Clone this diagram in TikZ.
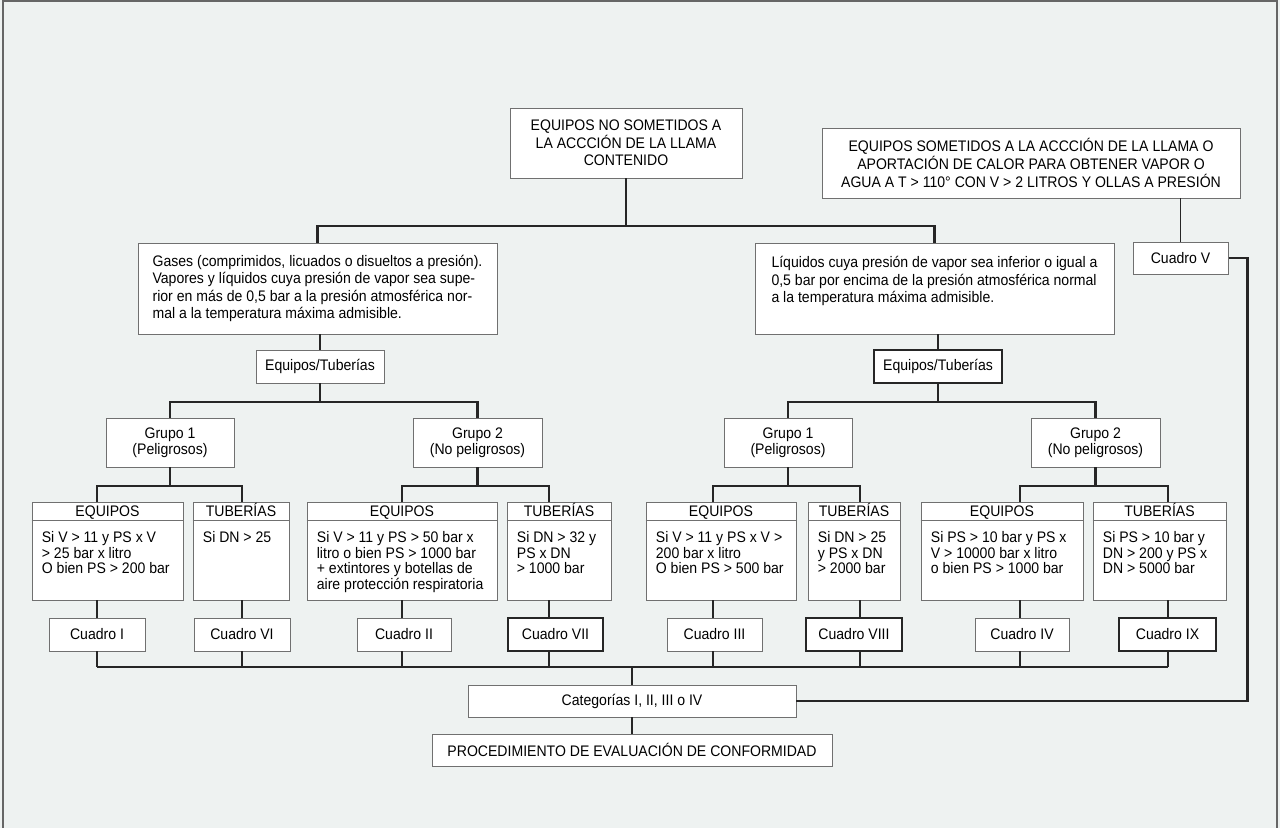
\documentclass[tikz,border=0pt]{standalone}
\usepackage{fontspec}
\setmainfont{Liberation Sans}[FakeStretch=0.92]
\newlength{\unidad}
\setlength{\unidad}{0.02cm}
\definecolor{fondo}{HTML}{EEF2F1}
\definecolor{borde}{HTML}{707070}
\definecolor{marco}{HTML}{666666}
\newcommand{\letra}{\fontsize{8.7}{10}\selectfont}
\newcommand{\letrac}{\fontsize{8.7}{8.85}\selectfont}
% tabla: nombre, centro x, ancho, titulo, texto
\newcommand{\tabla}[5]{%
	\node[caja, minimum width=#3\unidad, minimum height=98\unidad] (#1) at (#2,551) {};
	\draw[borde, line width=0.55pt] (#1.north west) ++(0,19) -- ++(#3,0);
	\node[font=\letra, inner sep=0pt, anchor=base] (#1-tit) at (#2,516) {#4};
	\node[font=\letrac, align=left, anchor=north west, inner sep=0pt, xshift=10\unidad, yshift=-29.5\unidad] (#1-txt) at (#1.north west) {#5};
}
\begin{document}
\begin{tikzpicture}[x=0.02cm, y=-0.02cm,
		caja/.style={draw=borde, fill=white, line width=0.55pt, inner sep=0pt, font=\letra, align=center},
		cajaosc/.style={caja, draw=black!85, line width=0.8pt},
		conn/.style={line width=1.6pt, black!85},
		medio/.style={line width=1.1pt, black!85},
		fino/.style={line width=0.85pt, black!85}]
	\useasboundingbox (0,0) rectangle (1280,828);
	\fill[fondo] (0,0) rectangle (1280,828);
	\draw[marco, line width=0.7pt] (3,828) -- (3,1) -- (1277,1) -- (1277,828);
	
	% cajas de arriba
	\node[caja, minimum width=232\unidad, minimum height=70\unidad] (noSom) at (626,143) {EQUIPOS NO SOMETIDOS A\\LA ACCCIÓN DE LA LLAMA\\CONTENIDO};
	\node[caja, minimum width=418\unidad, minimum height=70\unidad] (som) at (1031,163) {EQUIPOS SOMETIDOS A LA ACCCIÓN DE LA LLAMA O\\APORTACIÓN DE CALOR PARA OBTENER VAPOR O\\AGUA A T > 110° CON V > 2 LITROS Y OLLAS A PRESIÓN};
	\node[caja, minimum width=95\unidad, minimum height=32\unidad] (cuadroV) at (1180.5,258) {Cuadro V};
	
	\node[caja, align=left, minimum width=359\unidad, minimum height=91\unidad] (gases) at (317.5,288.5) {Gases (comprimidos, licuados o disueltos a presión).\\Vapores y líquidos cuya presión de vapor sea supe-\\rior en más de 0,5 bar a la presión atmosférica nor-\\mal a la temperatura máxima admisible.};
	\node[caja, align=left, minimum width=359\unidad, minimum height=91\unidad] (liq) at (934.5,288.5) {Líquidos cuya presión de vapor sea inferior o igual a\\0,5 bar por encima de la presión atmosférica normal\\a la temperatura máxima admisible.\\ ~};
	
	\node[caja, minimum width=128\unidad, minimum height=33\unidad] (eqtubL) at (320,366.5) {Equipos/Tuberías};
	\node[cajaosc, minimum width=128\unidad, minimum height=33\unidad] (eqtubR) at (938,366.5) {Equipos/Tuberías};
	
	% grupos
	\node[caja, font=\letrac, minimum width=128\unidad, minimum height=49\unidad] (g1L) at (170,442.5) {Grupo 1\\(Peligrosos)};
	\node[caja, font=\letrac, minimum width=129\unidad, minimum height=49\unidad] (g2L) at (477.5,442.5) {Grupo 2\\(No peligrosos)};
	\node[caja, font=\letrac, minimum width=128\unidad, minimum height=49\unidad] (g1R) at (788,442.5) {Grupo 1\\(Peligrosos)};
	\node[caja, font=\letrac, minimum width=129\unidad, minimum height=49\unidad] (g2R) at (1095.5,442.5) {Grupo 2\\(No peligrosos)};
	
	% tablas
	\tabla{eq1L}{107.5}{151}{EQUIPOS}{Si V > 11 y PS x V\\> 25 bar x litro\\O bien PS > 200 bar}
	\tabla{tb1L}{241}{96}{TUBERÍAS}{Si DN > 25}
	\tabla{eq2L}{402}{190}{EQUIPOS}{Si V > 11 y PS > 50 bar x\\litro o bien PS > 1000 bar\\+ extintores y botellas de\\aire protección respiratoria}
	\tabla{tb2L}{559}{104}{TUBERÍAS}{Si DN > 32 y\\PS x DN\\> 1000 bar}
	\tabla{eq1R}{721}{150}{EQUIPOS}{Si V > 11 y PS x V >\\200 bar x litro\\O bien PS > 500 bar}
	\tabla{tb1R}{854}{92}{TUBERÍAS}{Si DN > 25\\y PS x DN\\> 2000 bar}
	\tabla{eq2R}{1002}{162}{EQUIPOS}{Si PS > 10 bar y PS x\\V > 10000 bar x litro\\o bien PS > 1000 bar}
	\tabla{tb2R}{1159.5}{133}{TUBERÍAS}{Si PS > 10 bar y\\DN > 200 y PS x\\DN > 5000 bar}
	
	% cuadros
	\node[caja, minimum width=96\unidad, minimum height=33\unidad] (cI) at (97,634.5) {Cuadro I};
	\node[caja, minimum width=96\unidad, minimum height=33\unidad] (cVI) at (242,634.5) {Cuadro VI};
	\node[caja, minimum width=94\unidad, minimum height=33\unidad] (cII) at (404,634.5) {Cuadro II};
	\node[cajaosc, minimum width=95\unidad, minimum height=33\unidad] (cVII) at (555.5,634.5) {Cuadro VII};
	\node[caja, minimum width=95\unidad, minimum height=33\unidad] (cIII) at (714.5,634.5) {Cuadro III};
	\node[cajaosc, minimum width=96\unidad, minimum height=33\unidad] (cVIII) at (854,634.5) {Cuadro VIII};
	\node[caja, minimum width=94\unidad, minimum height=33\unidad] (cIV) at (1022,634.5) {Cuadro IV};
	\node[cajaosc, minimum width=97\unidad, minimum height=33\unidad] (cIX) at (1167.5,634.5) {Cuadro IX};
	
	\node[caja, minimum width=328\unidad, minimum height=32\unidad] (cat) at (632,701) {Categorías I, II, III o IV};
	\node[caja, minimum width=400\unidad, minimum height=32\unidad] (proc) at (632,750) {PROCEDIMIENTO DE EVALUACIÓN DE CONFORMIDAD};
	
	% columnas
	\coordinate (col1) at (97,486);
	\coordinate (col2) at (242,486);
	\coordinate (col3) at (402,486);
	\coordinate (col4) at (549,486);
	\coordinate (col5) at (713,486);
	\coordinate (col6) at (860,486);
	\coordinate (col7) at (1020,486);
	\coordinate (col8) at (1168,486);
	\coordinate (bus) at (632,667);
	
	% conectores
	\draw[conn] (noSom.south) -- (noSom.south |- 0,226);
	\draw[conn] (gases.north) -- (gases.north |- 0,226) -| (liq.north);
	\draw[medio] (eqtubL.north) -- (eqtubL.north |- gases.south);
	\draw[medio] (eqtubR.north) -- (eqtubR.north |- liq.south);
	\draw[conn] (eqtubL.south) -- (eqtubL.south |- 0,402);
	\draw[conn] (eqtubR.south) -- (eqtubR.south |- 0,402);
	\draw[conn] (g1L.north) -- (g1L.north |- 0,402) -| (g2L.north);
	\draw[conn] (g1R.north) -- (g1R.north |- 0,402) -| (g2R.north);
	
	\draw[conn] (g1L.south) -- (g1L.south |- col1);
	\draw[conn] (g2L.south) -- (g2L.south |- col3);
	\draw[conn] (g1R.south) -- (g1R.south |- col5);
	\draw[conn] (g2R.south) -- (g2R.south |- col7);
	\draw[conn] (eq1L.north -| col1) -- (col1) -- (col2) -- (tb1L.north -| col2);
	\draw[conn] (eq2L.north -| col3) -- (col3) -- (col4) -- (tb2L.north -| col4);
	\draw[conn] (eq1R.north -| col5) -- (col5) -- (col6) -- (tb1R.north -| col6);
	\draw[conn] (eq2R.north -| col7) -- (col7) -- (col8) -- (tb2R.north -| col8);
	
	\foreach \t/\c/\k in {eq1L/cI/col1, tb1L/cVI/col2, eq2L/cII/col3, tb2L/cVII/col4, eq1R/cIII/col5, tb1R/cVIII/col6, eq2R/cIV/col7, tb2R/cIX/col8} {
		\draw[conn] (\t.south -| \k) -- (\c.north -| \k);
		\draw[fino] (\c.south -| \k) -- (\k |- bus);
	}
	\draw[conn] (col1 |- bus) -- (col8 |- bus);
	\draw[fino] (bus) -- (cat.north);
	\draw[fino] (cat.south) -- (proc.north);
	
	\draw[medio] (cuadroV.north) -- (cuadroV.north |- som.south);
	\draw[conn] (cuadroV.east) -- ++(19,0) |- (cat.east);
\end{tikzpicture}
\end{document}
